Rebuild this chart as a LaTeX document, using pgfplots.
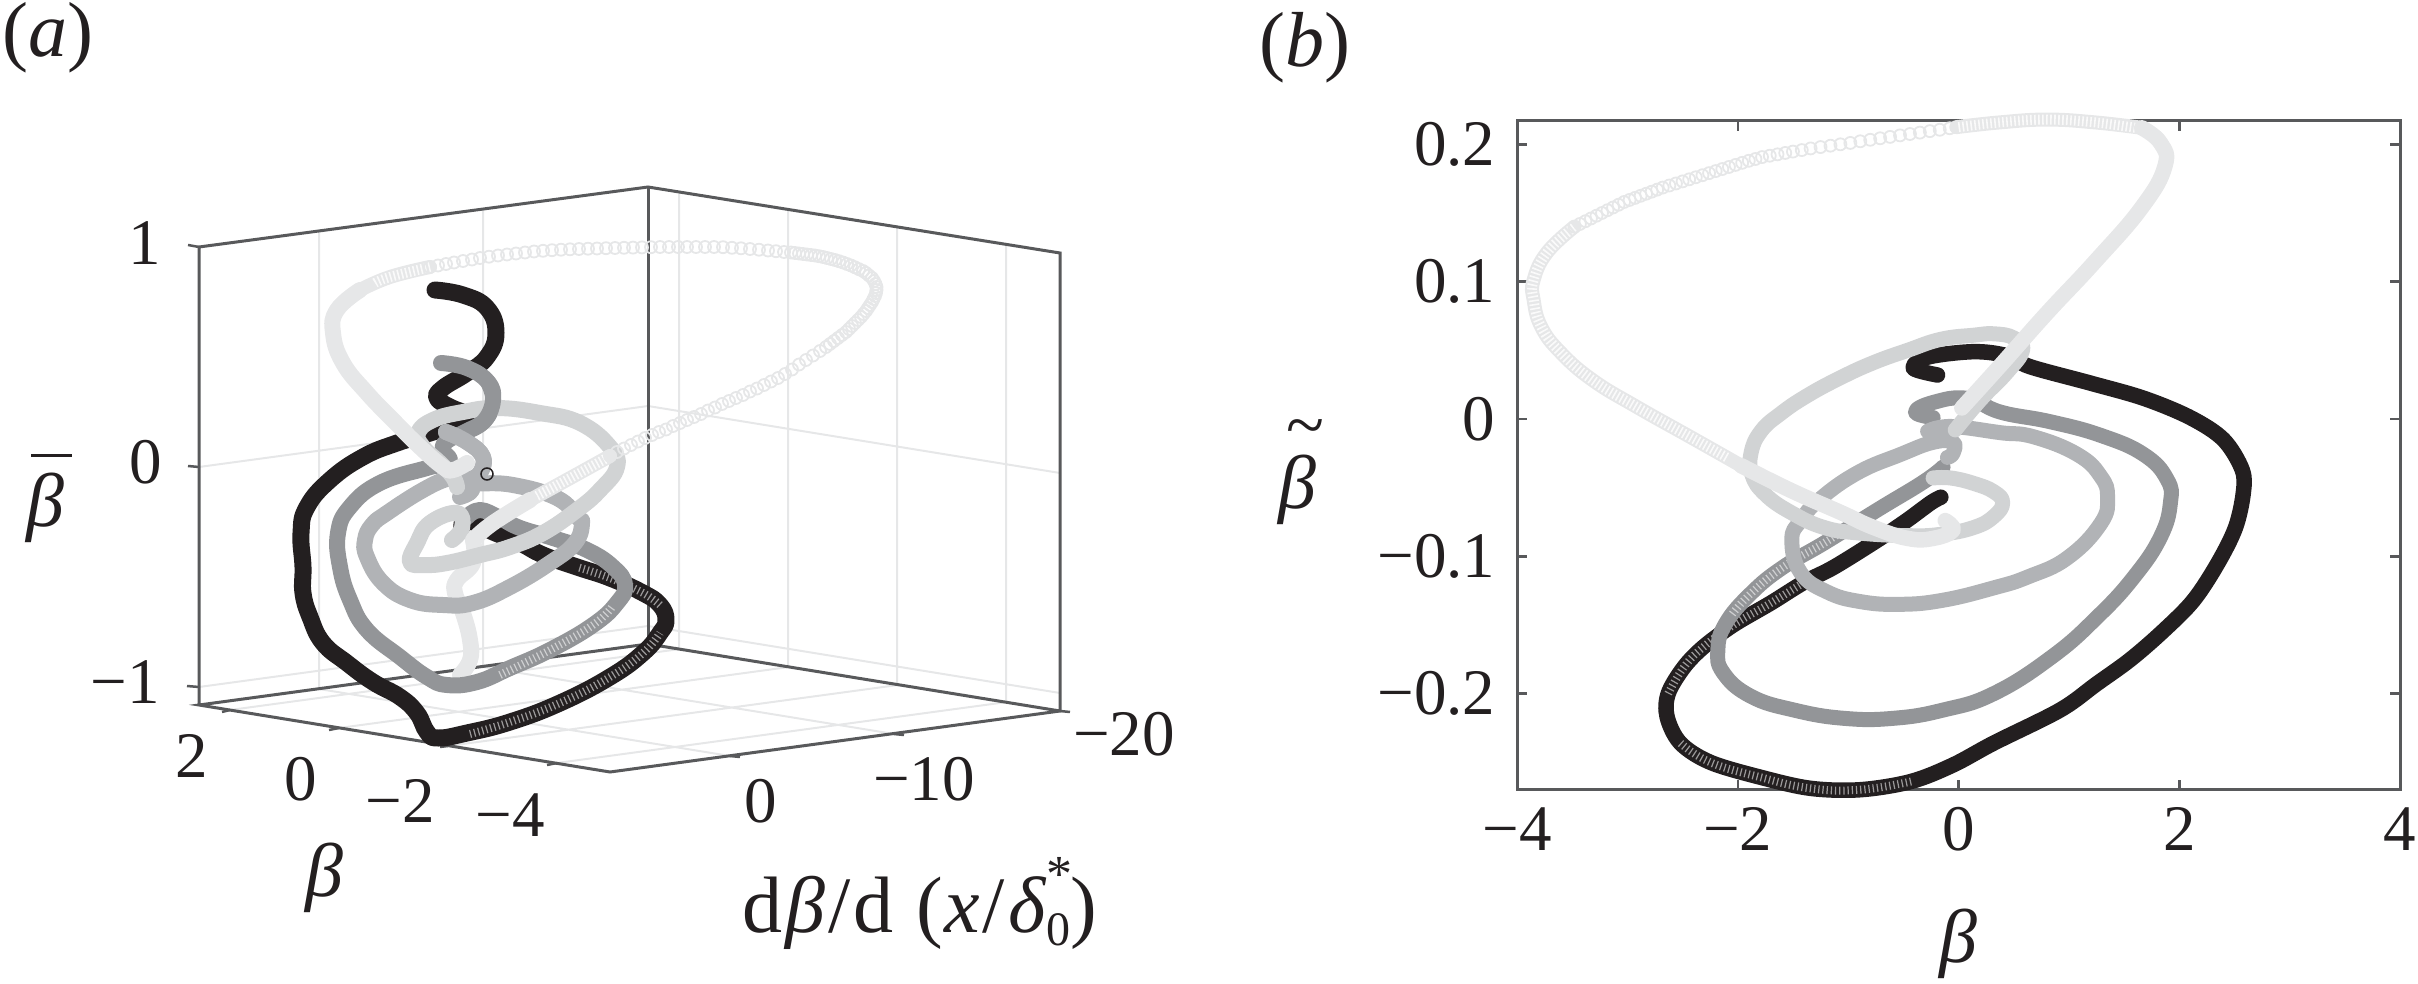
\documentclass[border=0pt]{standalone}
\usepackage{pgfplots}
\pgfplotsset{compat=1.18}
\usepackage{fontspec}
\setmainfont{Liberation Serif}
\definecolor{cK}{HTML}{231F20}
\definecolor{cA}{HTML}{939598}
\definecolor{cB}{HTML}{B1B3B6}
\definecolor{cC}{HTML}{D1D3D4}
\definecolor{cD}{HTML}{E6E7E8}
\definecolor{frame}{HTML}{58595B}
\tikzset{
  band/.style 2 args={#1,line width=#2,line cap=round,line join=round,smooth,tension=0.75},
  ribs/.style={white,opacity=0.55,line width=8pt,dash pattern=on 1.2pt off 3pt,smooth,tension=0.75},
  ribsL/.style={white,opacity=0.8,line width=10pt,dash pattern=on 1.6pt off 2.4pt,smooth,tension=0.75},
  rings/.style={only marks,mark=o,mark size=6pt,mark options={cD,line width=1.8pt}},
  tl/.style={font=\fontsize{65}{65}\selectfont,text=cK,inner sep=0pt,anchor=center},
  big/.style={font=\fontsize{76}{76}\selectfont,text=cK,inner sep=0pt,anchor=center}
}
\begin{document}
\begin{tikzpicture}
\path[use as bounding box] (0,0) rectangle (2418pt,984pt);
% ---------- panel (a): projected 3-D view, coordinates
\begin{axis}[at={(0pt,0pt)},anchor=south west,scale only axis,width=2418pt,height=984pt,
  xmin=0,xmax=2418,ymin=0,ymax=984,y dir=reverse,axis lines=none,clip=false]
% grid
\addplot[cD,line width=2pt,unbounded coords=jump] coordinates {
 (319,231)(319,689)(nan,nan)(483,209)(483,667)(nan,nan)
 (679,192)(679,650)(nan,nan)(788,209)(788,667)(nan,nan)(897,227)(897,685)(nan,nan)(1006,244)(1006,702)(nan,nan)
 (199,467)(648,406)(1060,473)(nan,nan)(199,687)(648,626)(1060,693)(nan,nan)
 (230,710)(680,649)(nan,nan)(339,728)(789,667)(nan,nan)(448,746)(898,685)(nan,nan)(557,763)(1007,702)(nan,nan)
 (319,689)(730,756)(nan,nan)(483,667)(894,734)};
% frame
\addplot[frame,line width=3pt,line join=miter] coordinates {(199,705)(199,247)(648,187)(1060,253)(1060,711)(610,772)(199,705)(648,644)(1060,711)};
\addplot[frame,line width=3pt] coordinates {(648,187)(648,644)};
\addplot[frame,line width=2.5pt,unbounded coords=jump] coordinates {
 (188,245)(199,247)(nan,nan)(188,466)(199,467)(nan,nan)(187,686)(199,687)(nan,nan)
 (230,710)(222,712)(nan,nan)(339,728)(329,730)(nan,nan)(448,746)(440,747)(nan,nan)(557,763)(547,765)(nan,nan)
 (730,756)(740,757)(nan,nan)(894,734)(904,735)(nan,nan)(1060,711)(1070,712)};
% black
\addplot[band={cK}{17pt}] coordinates {
 (435,290)(463,295)(487,308)(496,333)(487,357)(467,373)(443,388)(437,398)(450,407)(467,415)(460,423)(430,433)(397,443)(363,457)(330,480)(307,507)(301,533)(303,567)(303,593)(310,617)(323,643)(347,663)(373,682)(400,697)(417,713)(427,732)(438,738)(467,733)(510,722)(560,703)(610,677)(643,653)(660,633)(666,620)(660,605)(643,593)(610,578)(577,567)(543,555)(520,543)(493,532)(467,520)(462,527)};
\addplot[ribs] coordinates {(470,734)(510,722)(560,703)(610,677)(643,653)(660,633)};
\addplot[ribs] coordinates {(660,605)(643,593)(610,578)(577,567)};
\addplot[only marks,mark=o,mark size=6pt,mark options={cK,line width=1.5pt}] coordinates {(487,474)};
% lightest, lower part
\addplot[band={cD}{16pt}] coordinates {(473,540)(473,563)(457,580)(455,593)(463,613)(470,640)(470,660)(460,675)};
% dark grey
\addplot[band={cA}{16pt}] coordinates {
 (441,363)(467,368)(488,382)(493,400)(485,420)(465,432)(447,441)(443,450)(450,460)(440,465)(427,468)(380,483)(350,507)(338,533)(340,567)(350,600)(367,630)(400,657)(427,677)(447,685)(477,682)(510,668)(550,650)(593,625)(617,603)(625,585)(613,567)(587,550)(553,538)(520,528)(500,518)(480,510)(467,517)};
\addplot[ribs] coordinates {(500,675)(550,650)(593,625)(612,607)};
% mid grey
\addplot[band={cB}{16pt}] coordinates {
 (446,432)(467,442)(483,457)(480,473)(470,480)(477,483)(513,485)(557,498)(577,517)(582,523)(575,543)(550,563)(510,587)(473,603)(443,605)(410,600)(383,583)(367,557)(365,540)(372,525)(387,513)(423,490)(450,478)(465,478)(472,490)(460,497)};
% light grey
\addplot[band={cC}{16pt}] coordinates {
 (452,540)(462,528)(457,513)(430,523)(417,543)(410,562)(425,565)(447,563)(480,555)(510,547)(543,533)(577,510)(600,490)(617,467)(610,447)(580,423)(540,413)(497,408)(463,412)(433,420)(418,433)(423,447)(440,463)(453,477)(457,487)};
% helix pieces lying in front
\addplot[band={cA}{16pt}] coordinates {(488,382)(493,400)(485,420)(470,430)};
\addplot[band={cB}{16pt}] coordinates {(446,432)(467,442)(483,457)(480,473)};
% lightest
\addplot[band={cD}{16pt}] coordinates {(467,463)(453,470)(443,467)(420,447)(393,420)(367,393)(343,363)(333,333)(337,310)(360,290)};
\addplot[band={cD}{14pt}] coordinates {(360,290)(390,277)(430,267)};
\addplot[ribsL] coordinates {(375,283)(390,277)(430,267)};
\addplot[rings] coordinates {
(430,267)(438,265.5)(446,264)(454,262.5)(463,261)(472,259.5)(480,258)(489,256.7)(498,255.5)(507,254.5)(516,253.5)(525,252.5)(534,251.5)(543,250.8)(552,250.2)(561,249.7)(570,249.3)(579,249)(588,248.7)(597,248.5)(606,248.2)(615,248)(624,247.8)(633,247.6)(642,247.4)(651,247.2)(660,247)(669,247)(678,247)(687,247)(696,247)(705,247)(714,247)(723,247.2)(732,247.8)(741,248.3)(750,249)(759,249.7)(768,250.5)(776,251.2)(784,252)
(791,252.5)(795,253)(799,253.5)(803,254)(807,254.5)(811,255)(815,255.5)(819,256.2)(823,257)(827,258)(831,259)(835,260)(839,261.2)(843,262.5)(847,264)(851,265.5)(855,267.3)(859,269.2)(863,271)(866,273)(869,275.5)(872,278)(874,281)(875.5,284)(876.5,287)(876.5,290)(876,293)(875,296)(873.5,299)(872,302)(870,305)(868,308)(866,311)(863.5,314)(861,317)(858,320)(855,323)(852,326)(849,329)(846,332)(842,335)(838,338)(834,341)(830,344)(826,347)
(820,351)(813,355.5)(806,360)(799,364.5)(792,369.5)(785,374)(778,378)(771,381.5)(764,385)(757,388.5)(750,391.5)(743,395)(736,398)(729,401)(722,404)(715,407.5)(708,410.5)(701,414)(694,417)(687,420)(680,423)(673,426)(666,429.5)(659,432)(652,435)(645,438)(638,441.5)(631,445)(624,448.5)(617,452)(610,456)};
\addplot[band={cD}{14pt}] coordinates {(610,456)(563,482)(530,500)};
\addplot[ribsL] coordinates {(605,459)(563,482)(535,497)};
\addplot[band={cD}{16pt}] coordinates {(530,500)(493,523)(473,540)};
% texts
\node[big,font=\fontsize{78}{78}\selectfont] at (axis cs:48,38) {(\textit{a})};
\node[big,font=\fontsize{78}{78}\selectfont] at (axis cs:1305,48) {(\textit{b})};
\node[tl] at (axis cs:145,243) {1};
\node[tl] at (axis cs:146,462) {0};
\node[tl] at (axis cs:125,682) {−1};
\node[tl] at (axis cs:192,756) {2};
\node[tl] at (axis cs:301,779) {0};
\node[tl] at (axis cs:400,801) {−2};
\node[tl] at (axis cs:510,815) {−4};
\node[tl] at (axis cs:761,801) {0};
\node[tl] at (axis cs:924,779) {−10};
\node[tl] at (axis cs:1124,734) {−20};
\node[big] at (axis cs:324,878) {\textit{β}};
\node[big] at (axis cs:45,508) {\textit{β}};
\addplot[cK,line width=3pt] coordinates {(31,455)(72,455)};
\node[big,font=\fontsize{80}{80}\selectfont,anchor=base west] at (axis cs:742,932) {d\hspace{3pt}\textit{β}\hspace{3pt}/\hspace{3pt}d\hspace{23pt}(\hspace{2pt}\textit{x}\hspace{2pt}/\hspace{4pt}\textit{δ}\rlap{\raisebox{41pt}{\fontsize{52}{52}\selectfont *}}\raisebox{-13pt}{\fontsize{48}{48}\selectfont 0})};
\node[big] at (axis cs:1297,490) {\textit{β}};
\node[big,font=\fontsize{70}{70}\selectfont,anchor=base] at (axis cs:1305,449) {\textasciitilde};
\end{axis}
% ---------- panel (b)
\begin{axis}[at={(1517pt,194pt)},anchor=south west,scale only axis,width=883pt,height=669.3pt,
  xmin=-4,xmax=4,ymin=-0.2702,ymax=0.2172,clip=false,
  axis line style={frame,line width=3pt},
  tick align=inside,major tick length=10pt,
  every tick/.style={frame,line width=2.5pt},
  xtick={-4,-2,0,2,4},xticklabels={−4,−2,0,2,4},
  ytick={-0.2,-0.1,0,0.1,0.2},yticklabels={−0.2,−0.1,0,0.1,0.2},
  ticklabel style={font=\fontsize{65}{65}\selectfont,text=cK},
  xticklabel style={yshift=-14pt},yticklabel style={xshift=-18pt},
  xlabel={\textit{β}},xlabel style={font=\fontsize{76}{76}\selectfont,text=cK,at={(axis description cs:0.5,-0.23)},anchor=center}]
\addplot[band={cK}{15.5pt},tension=0.55] coordinates {
(-.19,.032)(-.41,.037)(-.28,.045)(.14,.049)(.44,.046)(.65,.038)(1.20,.026)(1.68,.015)(2.10,.001)(2.40,-.015)(2.57,-.037)(2.58,-.054)(2.51,-.079)(2.35,-.105)(2.13,-.132)(1.86,-.154)(1.56,-.175)(1.25,-.193)(.92,-.212)(.32,-.236)(-.05,-.252)(-.43,-.264)(-.89,-.270)(-1.34,-.269)(-1.79,-.261)(-2.25,-.250)(-2.52,-.236)(-2.64,-.217)(-2.63,-.200)(-2.49,-.181)(-2.31,-.166)(-2.04,-.150)(-1.70,-.134)(-1.40,-.119)(-1.13,-.108)(-.73,-.088)(-.47,-.074)(-.25,-.061)(-.16,-.057)};
\addplot[ribs] coordinates {(-.43,-.264)(-.89,-.270)(-1.34,-.269)(-1.79,-.261)(-2.25,-.250)(-2.52,-.236)};
\addplot[ribs] coordinates {(-2.63,-.200)(-2.49,-.181)(-2.31,-.166)(-2.04,-.150)(-1.70,-.134)(-1.40,-.119)};
\addplot[band={cA}{15pt}] coordinates {
(-.23,.001)(-.39,.005)(-.23,.012)(.08,.015)(.38,.005)(.83,-.002)(1.29,-.012)(1.68,-.026)(1.89,-.044)(1.92,-.061)(1.83,-.086)(1.59,-.115)(1.26,-.144)(.85,-.173)(.32,-.200)(-.14,-.212)(-.59,-.218)(-1.04,-.218)(-1.49,-.212)(-1.88,-.202)(-2.13,-.185)(-2.18,-.168)(-2.11,-.149)(-1.88,-.127)(-1.59,-.108)(-1.21,-.090)(-.73,-.066)(-.32,-.046)(-.14,-.035)};
\addplot[ribs] coordinates {(-2.05,-.142)(-1.88,-.127)(-1.59,-.108)(-1.21,-.090)(-.95,-.076)};
\addplot[band={cB}{15pt}] coordinates {
(-.28,-.009)(-.16,-.006)(.02,-.006)(.38,-.010)(.68,-.013)(1.08,-.026)(1.29,-.042)(1.35,-.057)(1.29,-.076)(.99,-.101)(.63,-.115)(.32,-.123)(-.14,-.132)(-.53,-.135)(-.89,-.133)(-1.19,-.126)(-1.43,-.112)(-1.51,-.088)(-1.43,-.074)(-1.25,-.058)(-.91,-.039)(-.53,-.026)(-.23,-.017)(-.05,-.017)(-.05,-.025)(-.10,-.028)};
\addplot[band={cC}{15pt}] coordinates {
(-.03,-.008)(.20,.014)(.44,.034)(.58,.050)(.50,.059)(.32,.062)(.14,.061)(-.16,.058)(-.46,.050)(-.77,.041)(-1.07,.030)(-1.37,.017)(-1.61,.004)(-1.79,-.009)(-1.88,-.025)(-1.87,-.041)(-1.75,-.055)(-1.52,-.068)(-1.22,-.079)(-.91,-.083)(-.46,-.085)(-.16,-.084)(.14,-.079)(.32,-.071)(.40,-.061)(.32,-.053)(.14,-.047)(-.07,-.043)(-.23,-.043)};
\addplot[band={cD}{15.5pt}] coordinates {(-.12,-.074)(-.05,-.081)(-.23,-.087)(-.46,-.087)(-.77,-.079)(-1.07,-.068)(-1.52,-.052)(-1.97,-.034)};
\addplot[band={cD}{14pt}] coordinates {(-1.97,-.034)(-2.41,-.014)(-2.92,.009)(-3.31,.028)(-3.60,.048)(-3.78,.067)(-3.85,.087)(-3.85,.101)(-3.73,.121)(-3.48,.140)};
\addplot[ribsL] coordinates {(-2.1,-.028)(-2.41,-.014)(-2.92,.009)(-3.31,.028)(-3.60,.048)(-3.78,.067)(-3.85,.087)(-3.85,.101)(-3.73,.121)(-3.48,.140)};
\addplot[rings] coordinates {(-3.48,.140)(-3.43,.142)(-3.38,.144)(-3.33,.146)(-3.28,.148)(-3.23,.150)(-3.18,.152)(-3.13,.154)(-3.08,.156)(-3.03,.158)(-2.98,.1595)(-2.93,.161)(-2.88,.1625)(-2.83,.164)(-2.78,.1655)(-2.73,.167)(-2.68,.1685)(-2.62,.170)(-2.56,.1715)(-2.50,.173)(-2.44,.1745)(-2.38,.176)(-2.32,.1775)(-2.26,.179)(-2.20,.1805)(-2.14,.182)(-2.08,.1835)(-2.02,.185)(-1.96,.1865)(-1.90,.188)(-1.84,.1893)(-1.78,.1907)(-1.71,.1917)(-1.64,.1927)(-1.57,.1937)(-1.50,.1947)(-1.42,.1958)(-1.34,.197)(-1.25,.198)(-1.16,.199)(-1.07,.2)(-.98,.201)(-.89,.2022)(-.80,.2033)(-.71,.2044)(-.62,.2054)(-.53,.2065)(-.44,.2075)(-.35,.2085)(-.26,.2096)(-.17,.2106)(-.08,.2117)};
\addplot[band={cD}{14pt}] coordinates {(-.02,.2125)(.38,.216)(.80,.218)(1.23,.216)(1.66,.212)};
\addplot[ribsL] coordinates {(0,.2125)(.38,.216)(.80,.218)(1.23,.216)(1.6,.212)};
\addplot[band={cD}{15.5pt}] coordinates {(1.66,.212)(1.83,.201)(1.87,.184)(1.66,.154)(1.23,.114)(.80,.077)(.38,.039)(.03,.008)};
\end{axis}
\end{tikzpicture}
\end{document}
